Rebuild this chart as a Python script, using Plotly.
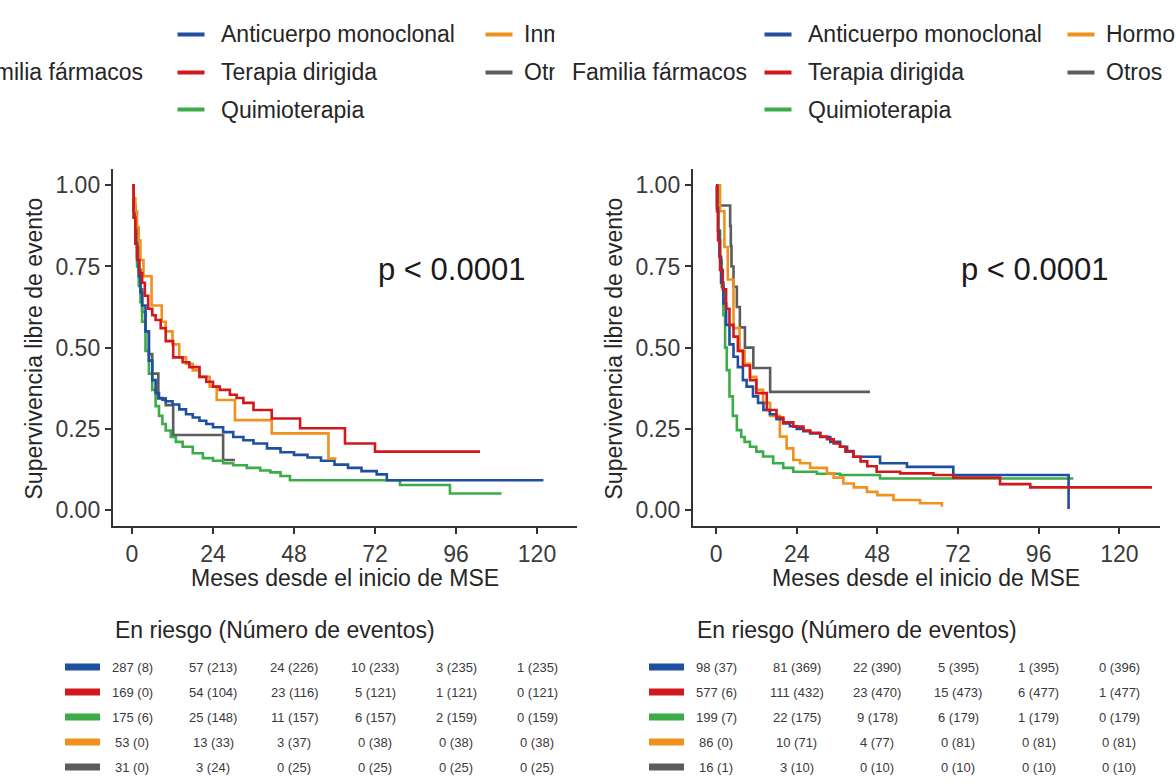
import plotly.graph_objects as go

W, H = 1176, 784
FONT = "Liberation Sans, Arial, sans-serif"

# ---------------- data ----------------
groups = ["Anticuerpo monoclonal", "Terapia dirigida", "Quimioterapia", "Inmunoterapia", "Otros"]
groups_right = ["Anticuerpo monoclonal", "Terapia dirigida", "Quimioterapia", "Hormonoterapia", "Otros"]
colors = ["#1f4fa0", "#d1191d", "#3cac48", "#f0901d", "#5c5c5c"]
risk_times = [0, 24, 48, 72, 96, 120]
x_ticks = [0, 24, 48, 72, 96, 120]
y_ticks = [0, 0.25, 0.5, 0.75, 1.0]
y_ticktext = ["0.00", "0.25", "0.50", "0.75", "1.00"]

# Left panel curves (months, survival)
L_anti_t = [0, 0.5, 1, 1.5, 2, 2.5, 3, 4, 5, 6, 7, 8, 9, 10, 12, 14, 16, 18, 20, 22, 24, 27, 30, 33, 36, 40, 44, 48, 52, 56, 60, 64, 68, 72.5, 75.5, 121.9]
L_anti_s = [1, 0.92, 0.85, 0.78, 0.72, 0.67, 0.63, 0.55, 0.46, 0.40, 0.36, 0.345, 0.34, 0.335, 0.325, 0.31, 0.295, 0.285, 0.275, 0.265, 0.255, 0.24, 0.225, 0.215, 0.205, 0.19, 0.178, 0.17, 0.162, 0.152, 0.14, 0.13, 0.12, 0.11, 0.092, 0.092]
L_terap_t = [0, 0.5, 1, 1.5, 2.2, 3, 3.8, 4.8, 6, 7, 8.5, 10, 12.2, 15, 17, 20, 22, 24, 26, 29, 31, 33, 36, 41.4, 49.8, 63.1, 72, 103.1]
L_terap_s = [1, 0.90, 0.82, 0.77, 0.73, 0.70, 0.66, 0.62, 0.60, 0.585, 0.56, 0.52, 0.47, 0.455, 0.44, 0.41, 0.395, 0.38, 0.37, 0.355, 0.345, 0.33, 0.308, 0.282, 0.252, 0.205, 0.18, 0.18]
L_quimio_t = [0, 0.5, 1, 1.5, 2, 2.5, 3, 4, 5, 6, 7, 8, 9, 10, 11.5, 13, 15, 18, 21, 24, 27, 30, 34, 38, 41, 44, 46.8, 79.4, 94.2, 109.5]
L_quimio_s = [1, 0.9, 0.82, 0.75, 0.69, 0.64, 0.58, 0.49, 0.42, 0.37, 0.32, 0.29, 0.265, 0.245, 0.225, 0.21, 0.195, 0.175, 0.16, 0.152, 0.144, 0.138, 0.13, 0.122, 0.116, 0.105, 0.092, 0.077, 0.051, 0.051]
L_inmuno_t = [0, 0.5, 1, 1.5, 2, 2.5, 3.4, 5.8, 8.8, 10, 12, 14, 16, 18, 20, 23, 25.1, 30.5, 41.4, 58.2, 60.6]
L_inmuno_s = [1, 0.96, 0.92, 0.87, 0.83, 0.77, 0.72, 0.63, 0.58, 0.55, 0.51, 0.47, 0.45, 0.43, 0.41, 0.38, 0.339, 0.277, 0.236, 0.159, 0.159]
L_otros_t = [0, 0.5, 1, 1.5, 2, 2.5, 3, 4, 5, 6, 7.8, 10, 12.2, 27, 30.5]
L_otros_s = [1, 0.94, 0.87, 0.81, 0.74, 0.68, 0.61, 0.55, 0.48, 0.42, 0.344, 0.323, 0.231, 0.154, 0.154]

# Right panel curves
R_anti_t = [0, 0.3, 0.6, 1, 1.5, 2.2, 3, 4, 5.2, 6.5, 8, 9.1, 11, 12.5, 14.1, 16, 18, 20, 22, 24, 26, 28, 31, 34, 36.9, 39, 40.9, 48.8, 56.8, 70.6, 104.9]
R_anti_s = [1, 0.93, 0.86, 0.78, 0.70, 0.636, 0.57, 0.51, 0.472, 0.44, 0.40, 0.38, 0.35, 0.33, 0.308, 0.295, 0.28, 0.267, 0.258, 0.25, 0.243, 0.236, 0.225, 0.21, 0.195, 0.182, 0.164, 0.144, 0.133, 0.108, 0.003]
R_terap_t = [0, 0.3, 0.6, 1.2, 2, 3, 4, 5.2, 6.5, 8, 10.1, 12, 15.1, 18, 20, 23, 26, 28, 31, 33, 35, 36.9, 38.5, 40.9, 43, 45, 47.8, 54.8, 64.7, 70.6, 84.5, 93.5, 129.7]
R_terap_s = [1, 0.92, 0.83, 0.739, 0.68, 0.62, 0.57, 0.534, 0.49, 0.445, 0.40, 0.36, 0.308, 0.285, 0.27, 0.257, 0.245, 0.238, 0.226, 0.218, 0.205, 0.195, 0.18, 0.164, 0.15, 0.135, 0.118, 0.113, 0.108, 0.10, 0.08, 0.07, 0.07]
R_quimio_t = [0, 0.3, 0.7, 1.2, 1.7, 2.2, 2.7, 3.2, 4, 5, 6.2, 7.5, 8.5, 10.1, 12, 14, 17, 20, 23, 30, 36.9, 48.8, 106.3]
R_quimio_s = [1, 0.94, 0.86, 0.77, 0.688, 0.6, 0.5, 0.431, 0.35, 0.29, 0.246, 0.225, 0.21, 0.195, 0.18, 0.165, 0.144, 0.13, 0.118, 0.112, 0.108, 0.097, 0.097]
R_hormo_t = [0, 1.2, 2.5, 3.5, 5.2, 7, 8.5, 10.1, 12, 14, 16.1, 19, 21, 23, 25, 28, 33, 35, 37.9, 41, 44.9, 48, 52.8, 60.7, 67.2]
R_hormo_s = [1, 0.92, 0.81, 0.71, 0.56, 0.49, 0.45, 0.41, 0.37, 0.33, 0.29, 0.226, 0.19, 0.154, 0.144, 0.13, 0.113, 0.1, 0.082, 0.07, 0.056, 0.046, 0.031, 0.021, 0.01]
R_otros_t = [0, 0.5, 4.2, 4.4, 4.6, 5.2, 6.2, 7.1, 8.6, 11.1, 16.1, 45.8]
R_otros_s = [1, 0.9375, 0.875, 0.8125, 0.75, 0.6875, 0.625, 0.5625, 0.5, 0.4375, 0.364, 0.364]

# Risk tables: at risk (events)
L_risk = [[287, 57, 24, 10, 3, 1], [169, 54, 23, 5, 1, 0], [175, 25, 11, 6, 2, 0], [53, 13, 3, 0, 0, 0], [31, 3, 0, 0, 0, 0]]
L_events = [[8, 213, 226, 233, 235, 235], [0, 104, 116, 121, 121, 121], [6, 148, 157, 157, 159, 159], [0, 33, 37, 38, 38, 38], [0, 24, 25, 25, 25, 25]]
R_risk = [[98, 81, 22, 5, 1, 0], [577, 111, 23, 15, 6, 1], [199, 22, 9, 6, 1, 0], [86, 10, 4, 0, 0, 0], [16, 3, 0, 0, 0, 0]]
R_events = [[37, 369, 390, 395, 395, 396], [6, 432, 470, 473, 477, 477], [7, 175, 178, 179, 179, 179], [0, 71, 77, 81, 81, 81], [1, 10, 10, 10, 10, 10]]

pval_text = "p < 0.0001"
legend_title = "Familia fármacos"
risk_title = "En riesgo (Número de eventos)"
x_title = "Meses desde el inicio de MSE"
y_title = "Supervivencia libre de evento"

left_curves = [(L_anti_t, L_anti_s), (L_terap_t, L_terap_s), (L_quimio_t, L_quimio_s), (L_inmuno_t, L_inmuno_s), (L_otros_t, L_otros_s)]
right_curves = [(R_anti_t, R_anti_s), (R_terap_t, R_terap_s), (R_quimio_t, R_quimio_s), (R_hormo_t, R_hormo_s), (R_otros_t, R_otros_s)]

# ---------------- layout helpers (pixel -> paper) ----------------
def px(x):
    return x / W

def py(y):
    return 1 - y / H

fig = go.Figure()

order = [4, 2, 0, 3, 1]
for i in order:
    t, s = left_curves[i]
    fig.add_trace(go.Scatter(x=t, y=s, mode="lines", line=dict(color=colors[i], width=2.6, shape="hv"),
                             xaxis="x", yaxis="y", showlegend=False, hoverinfo="skip"))
order_r = [4, 2, 3, 0, 1]
for i in order_r:
    t, s = right_curves[i]
    fig.add_trace(go.Scatter(x=t, y=s, mode="lines", line=dict(color=colors[i], width=2.6, shape="hv"),
                             xaxis="x2", yaxis="y2", showlegend=False, hoverinfo="skip"))

PLOT_TOP, PLOT_BOT = 169, 526
L_X0, L_X1 = 113, 577
R_X0, R_X1 = 693, 1160

axis_common = dict(showgrid=False, zeroline=False, showline=True, linecolor="#333333", linewidth=2.4,
                   ticks="outside", ticklen=6, tickwidth=2, tickcolor="#333333",
                   tickfont=dict(family=FONT, size=23, color="#3a3a3a"), mirror=False)

fig.update_layout(
    width=W, height=H, margin=dict(l=0, r=0, t=0, b=0),
    paper_bgcolor="white", plot_bgcolor="white", showlegend=False,
    xaxis=dict(domain=[px(L_X0), px(L_X1)], range=[-5.63, 131.85], tickvals=x_ticks, anchor="y", **axis_common),
    yaxis=dict(domain=[py(PLOT_BOT), py(PLOT_TOP)], range=[-0.049, 1.05], tickvals=y_ticks, ticktext=y_ticktext, anchor="x", **axis_common),
    xaxis2=dict(domain=[px(R_X0), px(R_X1)], range=[-6.85, 132.1], tickvals=x_ticks, anchor="y2", **axis_common),
    yaxis2=dict(domain=[py(PLOT_BOT), py(PLOT_TOP)], range=[-0.049, 1.05], tickvals=y_ticks, ticktext=y_ticktext, anchor="x2", **axis_common),
)

ann = []
shapes = []
txt_color = "#262626"

# axis titles
for xc in [(L_X0 + L_X1) / 2, (R_X0 + R_X1) / 2]:
    ann.append(dict(text=x_title, x=px(xc), y=py(578), xref="paper", yref="paper", showarrow=False,
                    xanchor="center", yanchor="middle", font=dict(family=FONT, size=23, color=txt_color)))
for xc in [34, 614]:
    ann.append(dict(text=y_title, x=px(xc), y=py((PLOT_TOP + PLOT_BOT) / 2 + 1), xref="paper", yref="paper", showarrow=False,
                    textangle=-90, xanchor="center", yanchor="middle", font=dict(family=FONT, size=23, color=txt_color)))

# p-values
for xr, yr in [("x", "y"), ("x2", "y2")]:
    ann.append(dict(text=pval_text, x=72.3, y=0.74, xref=xr, yref=yr, showarrow=False, xanchor="left", yanchor="middle",
                    font=dict(family=FONT, size=31, color="#1a1a1a")))

# legends (keys drawn as small filled annotation bars so they stack correctly)
row_y = [34, 72, 110]
def add_legend(offset, labels, title_end, col2_shift):
    ann.append(dict(text=legend_title, x=px(title_end), y=py(row_y[1]), xref="paper", yref="paper", showarrow=False,
                    xanchor="right", yanchor="middle", font=dict(family=FONT, size=23, color=txt_color)))
    pos = [(0, 0), (0, 1), (0, 2), (1, 0), (1, 1)]
    for i, (c, r) in enumerate(pos):
        lx0 = (177 if c == 0 else 480 + col2_shift) + offset
        tx = (219 if c == 0 else 517 + col2_shift) + offset
        ann.append(dict(text=" ", x=px(lx0), y=py(row_y[r]), xref="paper", yref="paper", showarrow=False,
                        xanchor="left", yanchor="middle", width=26, height=3, borderpad=0,
                        bgcolor=colors[i], font=dict(size=1)))
        ann.append(dict(text=labels[i], x=px(tx), y=py(row_y[r]), xref="paper", yref="paper", showarrow=False,
                        xanchor="left", yanchor="middle", font=dict(family=FONT, size=23, color=txt_color)))

add_legend(0, groups, 145, 5)
# white background of the right legend box covers the overflowing left legend
ann.append(dict(text=" ", x=px(554), y=py(8), xref="paper", yref="paper", showarrow=False, xanchor="left", yanchor="top",
                width=620, height=124, bgcolor="white", borderpad=0))
add_legend(587, groups_right, 749, 0)

# risk tables
risk_rows_y = [667, 692, 717, 742, 767]
def add_risk(xref, x_title_px, bar_x0, risk, events):
    ann.append(dict(text=risk_title, x=px(x_title_px), y=py(630), xref="paper", yref="paper", showarrow=False,
                    xanchor="left", yanchor="middle", font=dict(family=FONT, size=23, color=txt_color)))
    for r in range(5):
        shapes.append(dict(type="rect", xref="paper", yref="paper", x0=px(bar_x0), x1=px(bar_x0 + 35),
                           y0=py(risk_rows_y[r] + 3.5), y1=py(risk_rows_y[r] - 3.5), line=dict(width=0), fillcolor=colors[r]))
        for j, t in enumerate(risk_times):
            ann.append(dict(text=f"{risk[r][j]} ({events[r][j]})", x=t, y=py(risk_rows_y[r]), xref=xref, yref="paper",
                            showarrow=False, xanchor="center", yanchor="middle",
                            font=dict(family=FONT, size=13, color="#3a3a3a")))

add_risk("x", 113, 65, L_risk, L_events)
add_risk("x2", 695, 649, R_risk, R_events)

fig.update_layout(annotations=ann, shapes=shapes)
fig.write_html("out.html")
